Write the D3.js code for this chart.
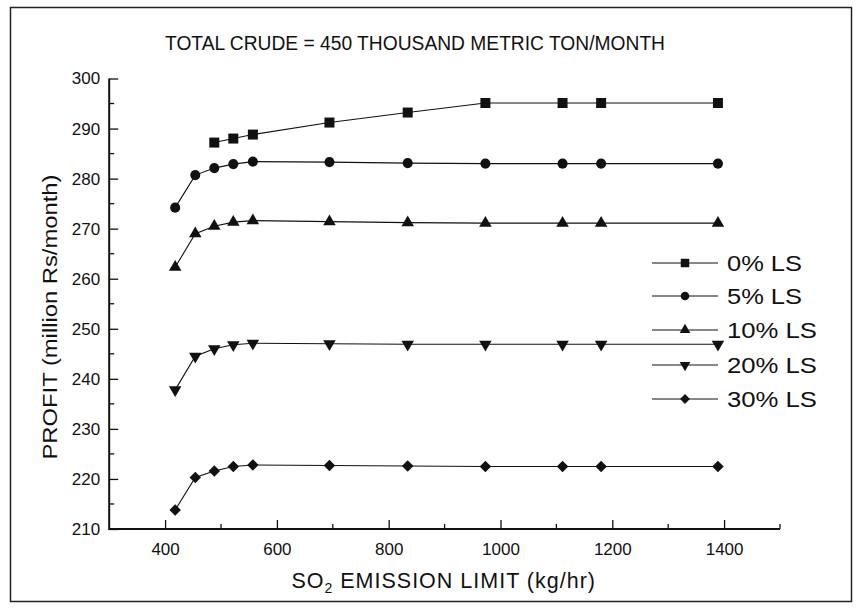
<!DOCTYPE html>
<html>
<head>
<meta charset="utf-8">
<script src="https://cdn.jsdelivr.net/npm/d3@7"></script>
<style>
  html, body { margin: 0; padding: 0; background: #fff; }
  svg { display: block; font-family: "Liberation Sans", Arial, Helvetica, sans-serif; }
</style>
</head>
<body>
<svg id="chart" width="862" height="609"></svg>
<script>
// ---- data ----
const emissionLimits = [418, 454, 488, 522, 557, 694, 834, 973, 1111, 1180, 1389];
const ls0  = [null, null, 287.2, 288.0, 288.8, 291.2, 293.2, 295.1, 295.1, 295.1, 295.1];
const ls5  = [274.2, 280.7, 282.1, 282.9, 283.4, 283.3, 283.1, 283.0, 283.0, 283.0, 283.0];
const ls10 = [262.3, 269.0, 270.5, 271.3, 271.6, 271.4, 271.2, 271.1, 271.1, 271.1, 271.1];
const ls20 = [237.8, 244.5, 246.0, 246.8, 247.1, 247.0, 246.9, 246.9, 246.9, 246.9, 246.9];
const ls30 = [213.8, 220.3, 221.6, 222.5, 222.8, 222.7, 222.6, 222.5, 222.5, 222.5, 222.5];
const seriesNames = ["0% LS", "5% LS", "10% LS", "20% LS", "30% LS"];
const seriesValues = [ls0, ls5, ls10, ls20, ls30];
const seriesMarkers = ["square", "circle", "triangleUp", "triangleDown", "diamond"];
const xTickLabels = [400, 600, 800, 1000, 1200, 1400];
const yTickLabels = [210, 220, 230, 240, 250, 260, 270, 280, 290, 300];
const titleText = "TOTAL CRUDE = 450 THOUSAND METRIC TON/MONTH";

(function () {
// ---- layout ----
const svg = d3.select("#chart");
const pLeft = 109.2, pRight = 780, pTop = 78.5, pBottom = 529;
const x = d3.scaleLinear().domain([300, 1500]).range([pLeft, pRight]);
const y = d3.scaleLinear().domain([210, 300]).range([pBottom, pTop]);

// outer frame
svg.append("rect").attr("x", 10.5).attr("y", 7.5).attr("width", 841).attr("height", 594)
  .attr("fill", "none").attr("stroke", "#222").attr("stroke-width", 1.5);

// title
svg.append("text").attr("x", 415).attr("y", 49.5).attr("text-anchor", "middle")
  .attr("font-size", 20).attr("textLength", 500).attr("lengthAdjust", "spacingAndGlyphs")
  .attr("fill", "#111").text(titleText);

// axes
const yAxis = d3.axisLeft(y).tickValues(yTickLabels).tickSize(-9).tickPadding(9)
  .tickFormat(d3.format("d"));
const gy = svg.append("g").attr("transform", `translate(${pLeft},0)`).call(yAxis);
gy.select(".domain").remove();
gy.selectAll(".tick line").attr("stroke", "#111").attr("stroke-width", 1.3);
gy.selectAll(".tick text").attr("font-size", 17).attr("fill", "#111")
  .attr("font-family", "Liberation Sans, Arial, sans-serif");
// y minor ticks
svg.append("g").selectAll("line").data(d3.range(215, 300, 10)).join("line")
  .attr("x1", pLeft).attr("x2", pLeft + 5).attr("y1", d => y(d)).attr("y2", d => y(d))
  .attr("stroke", "#111").attr("stroke-width", 1.3);

const xAxis = d3.axisBottom(x).tickValues(xTickLabels).tickSize(-9).tickPadding(14)
  .tickFormat(d3.format("d"));
const gx = svg.append("g").attr("transform", `translate(0,${pBottom})`).call(xAxis);
gx.select(".domain").remove();
gx.selectAll(".tick line").attr("stroke", "#111").attr("stroke-width", 1.3);
gx.selectAll(".tick text").attr("font-size", 17).attr("fill", "#111")
  .attr("font-family", "Liberation Sans, Arial, sans-serif");
// x minor ticks
svg.append("g").selectAll("line").data(d3.range(500, 1501, 200)).join("line")
  .attr("x1", d => x(d)).attr("x2", d => x(d)).attr("y1", pBottom).attr("y2", pBottom - 5)
  .attr("stroke", "#111").attr("stroke-width", 1.3);

// axis lines
svg.append("path")
  .attr("d", `M${pLeft},${pTop}V${pBottom}H${pRight}`)
  .attr("fill", "none").attr("stroke", "#111").attr("stroke-width", 2);

// axis titles
const xt = svg.append("text").attr("x", 443.7).attr("y", 588).attr("text-anchor", "middle")
  .attr("font-size", 21.5).attr("letter-spacing", 1).attr("fill", "#111");
xt.append("tspan").text("SO");
xt.append("tspan").attr("font-size", 14).attr("dy", 5).text("2");
xt.append("tspan").attr("dy", -5).text(" EMISSION LIMIT (kg/hr)");

svg.append("text").attr("transform", "translate(57,317) rotate(-90)")
  .attr("text-anchor", "middle").attr("font-size", 21).attr("fill", "#111")
  .attr("textLength", 285).attr("lengthAdjust", "spacingAndGlyphs")
  .text("PROFIT (million Rs/month)");

// markers
function markerPath(kind, scale) {
  const s = scale || 1;
  switch (kind) {
    case "square": return d3.symbol(d3.symbolSquare, 100 * s * s)();
    case "circle": return d3.symbol(d3.symbolCircle, 80 * s * s)();
    case "triangleUp": return d3.symbol(d3.symbolTriangle, 68 * s * s)();
    case "triangleDown": return d3.symbol(d3.symbolTriangle, 68 * s * s)();
    case "diamond": return d3.symbol(d3.symbolSquare, 66 * s * s)();
  }
}
function markerRot(kind) {
  if (kind === "triangleDown") return 180;
  if (kind === "diamond") return 45;
  return 0;
}

const line = d3.line().defined(d => d[1] != null).x(d => x(d[0])).y(d => y(d[1]));

seriesValues.forEach((vals, i) => {
  const pts = emissionLimits.map((xv, j) => [xv, vals[j]]);
  svg.append("path").datum(pts).attr("d", line)
    .attr("fill", "none").attr("stroke", "#111").attr("stroke-width", 1.1);
  svg.append("g").selectAll("path").data(pts.filter(p => p[1] != null)).join("path")
    .attr("d", markerPath(seriesMarkers[i]))
    .attr("transform", p => `translate(${x(p[0])},${y(p[1])}) rotate(${markerRot(seriesMarkers[i])})`)
    .attr("fill", "#111");
});

// legend
const legY = [263, 296, 330, 365, 399];
const lg = svg.append("g");
seriesNames.forEach((name, i) => {
  const yy = legY[i];
  lg.append("line").attr("x1", 652).attr("x2", 718).attr("y1", yy).attr("y2", yy)
    .attr("stroke", "#111").attr("stroke-width", 1.1);
  lg.append("path").attr("d", markerPath(seriesMarkers[i], 0.85))
    .attr("transform", `translate(685,${yy}) rotate(${markerRot(seriesMarkers[i])})`)
    .attr("fill", "#111");
  const tw = name.length === 5 ? 75 : 90;
  lg.append("text").attr("x", 727).attr("y", yy + 8).attr("font-size", 22)
    .attr("textLength", tw).attr("lengthAdjust", "spacingAndGlyphs")
    .attr("fill", "#111").text(name);
});
})();
</script>
</body>
</html>
